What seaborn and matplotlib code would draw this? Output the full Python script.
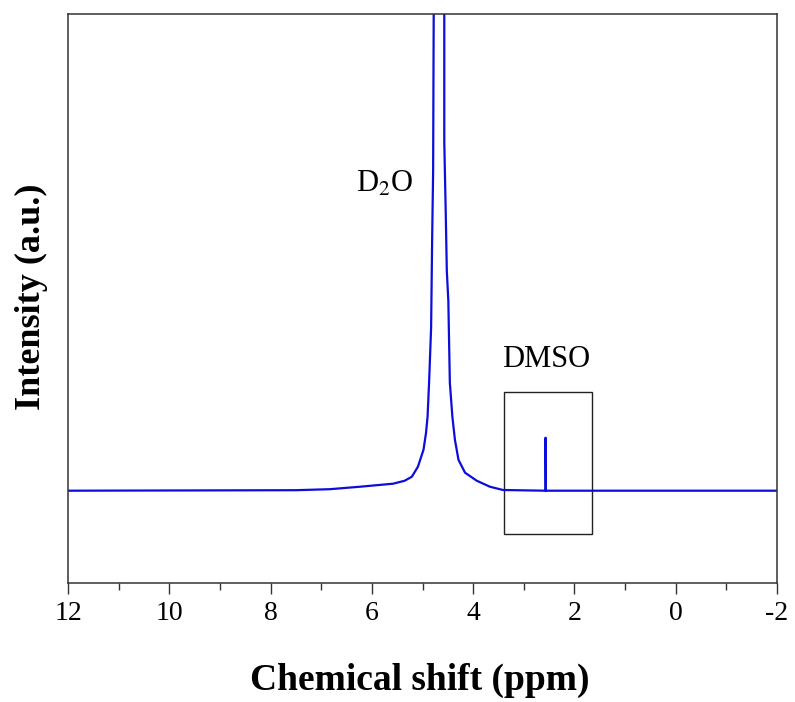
import matplotlib
matplotlib.use("Agg")
import matplotlib.pyplot as plt
import seaborn as sns
import pandas as pd
from matplotlib.patches import Rectangle
from matplotlib.ticker import MultipleLocator

sns.set_style("white")
plt.rcParams['font.family'] = ['Liberation Serif', 'DejaVu Serif']
plt.rcParams['mathtext.fontset'] = 'stix'
plt.rcParams['text.color'] = 'black'
plt.rcParams['axes.labelcolor'] = 'black'
plt.rcParams['xtick.labelcolor'] = 'black'

# Spectrum points (ppm, intensity in arbitrary units)
shift_ppm = [12.0, 7.5, 6.83, 6.23, 5.58, 5.35, 5.21, 5.09, 4.98, 4.93, 4.90, 4.87,
             4.83, 4.81, 4.79, 4.77, 4.67, 4.57, 4.57, 4.54, 4.52, 4.49, 4.46, 4.41,
             4.36, 4.29, 4.16, 3.93, 3.67, 3.41, 2.58, 2.57, 2.57, 2.565, -2.0]
intensity = [0.0, 0.5, 1.5, 4.0, 7.0, 10.0, 14.0, 24.0, 41.0, 58.0, 74.0, 108.0,
             163.0, 250.0, 320.0, 600.0, 2000.0, 600.0, 349.0, 275.0, 220.0, 190.0, 108.0, 74.0,
             51.0, 31.0, 18.0, 10.0, 4.0, 0.7, 0.0, 0.0, 53.0, 0.0, 0.0]

x_ticks = [12, 10, 8, 6, 4, 2, 0, -2]
x_tick_labels = ["12", "10", "8", "6", "4", "2", "0", "-2"]

box_ppm = [3.40, 1.66]
box_intensity = [-43.3, 98.7]

df = pd.DataFrame({"shift": shift_ppm, "intensity": intensity})

fig = plt.figure(figsize=(7.95, 7.02), dpi=100)
ax = fig.add_axes([68/795, 1 - 583/702, (777-68)/795, (583-14)/702])

sns.lineplot(data=df, x="shift", y="intensity", sort=False, estimator=None,
             color="#0c0cdc", linewidth=1.6, ax=ax)

ax.set_xlim(12, -2)
ax.set_ylim(-92.3, 476.7)

ax.set_xticks(x_ticks)
ax.set_xticklabels(x_tick_labels)
ax.xaxis.set_minor_locator(MultipleLocator(1))
ax.tick_params(axis='x', which='major', direction='out', length=8, width=1.0,
               labelsize=20, pad=5, bottom=True, color='#333333', labelcolor='black')
ax.tick_params(axis='x', which='minor', direction='out', length=5, width=1.0,
               bottom=True, color='#333333')
ax.set_yticks([])

for s in ax.spines.values():
    s.set_color('#333333')
    s.set_linewidth(1.1)

rect = Rectangle((box_ppm[0], box_intensity[0]), box_ppm[1] - box_ppm[0],
                 box_intensity[1] - box_intensity[0], fill=False,
                 edgecolor='#222222', linewidth=1.0)
ax.add_patch(rect)

ax.text(5.74, 307, "D$_2$O", fontsize=22, ha='center', va='center', color='black')
ax.text(2.55, 131, "DMSO", fontsize=22, ha='center', va='center', color='black')

ax.set_xlabel("Chemical shift (ppm)", fontsize=27, fontweight='bold', color='black')
ax.set_ylabel("Intensity (a.u.)", fontsize=26, fontweight='bold', color='black')
ax.xaxis.set_label_coords(0.496, -0.14)
ax.yaxis.set_label_coords(-0.028, 0.503)

fig.savefig("out.png", dpi=100)
